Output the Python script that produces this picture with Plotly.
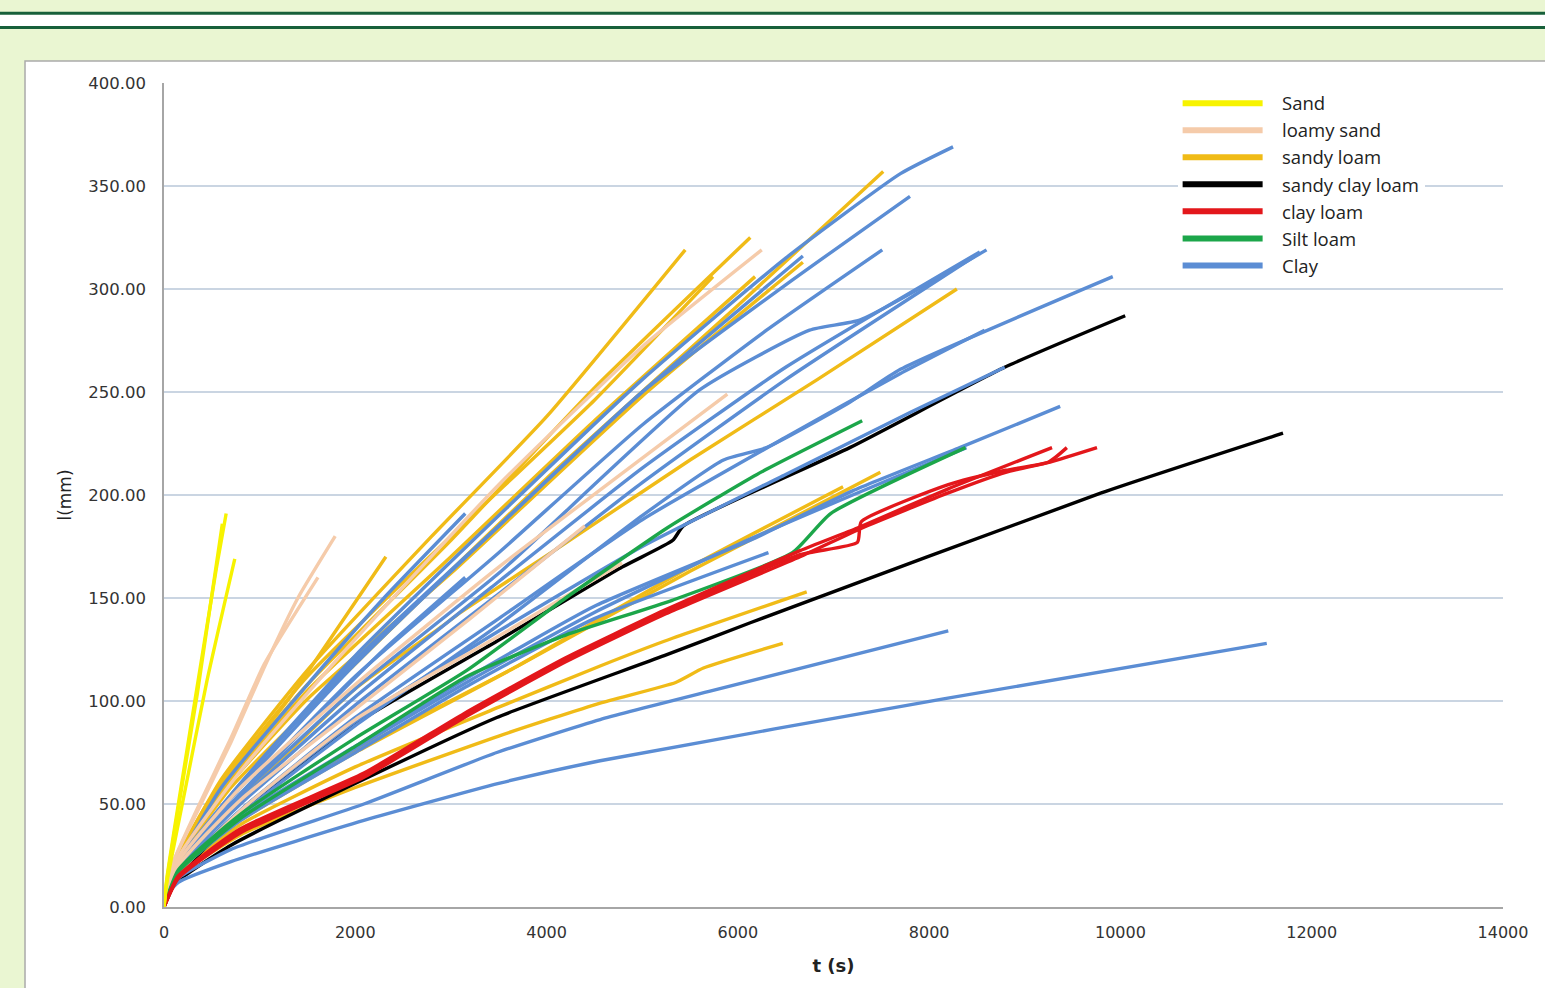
import plotly.graph_objects as go

# ---------------- data (t in s, I in mm) ----------------
SAND_T = [[0, 30, 150, 350, 550, 650], [0, 30, 200, 450, 740], [0, 30, 150, 350, 610]]
SAND_I = [[0, 14, 50, 108, 165, 191], [0, 12, 52, 110, 169], [0, 13, 48, 104, 186]]

LOAMY_SAND_T = [[0, 100, 345, 700, 1045, 1400, 1790], [0, 100, 350, 700, 1050, 1610],
                [0, 150, 800, 2000, 3500, 5000, 6250], [0, 150, 800, 2000, 3500, 5890],
                [0, 150, 800, 2000, 3200, 4400], [0, 150, 805, 2000, 3480, 4790]]
LOAMY_SAND_I = [[0, 22, 46, 80, 116, 150, 180], [0, 22, 48, 82, 118, 160],
                [0, 24, 66, 130, 205, 272, 319], [0, 22, 58, 108, 165, 249],
                [0, 20, 52, 96, 140, 185], [0, 16, 47, 91, 131, 167]]

SANDY_LOAM_T = [[0, 150, 600, 1500, 2800, 4000, 5450], [0, 150, 600, 1500, 3000, 4500, 6130],
                [0, 150, 700, 2000, 4000, 6000, 7520],
                [0, 150, 800, 2000, 2900, 3100, 4210, 5500, 6830, 8290],
                [0, 150, 600, 1500, 3000, 4500, 5740], [0, 150, 600, 1500, 3000, 4500, 6180],
                [0, 150, 600, 1500, 3000, 5000, 6680], [0, 100, 450, 1320, 2320],
                [0, 150, 800, 2000, 3700, 5500, 7490], [0, 150, 800, 2000, 3620, 5500, 7100],
                [0, 150, 800, 2000, 3500, 4560, 5230, 6720],
                [0, 150, 800, 2000, 3500, 4560, 5350, 5640, 6470]]
SANDY_LOAM_I = [[0, 24, 62, 115, 180, 238, 319], [0, 22, 58, 108, 178, 252, 325],
                [0, 22, 58, 118, 208, 292, 357],
                [0, 20, 52, 106, 136, 143, 177, 217, 256, 300],
                [0, 24, 60, 112, 180, 246, 306], [0, 22, 56, 105, 170, 236, 306],
                [0, 22, 55, 101, 162, 248, 313], [0, 20, 50, 102, 170],
                [0, 17, 43, 76, 117, 163, 211], [0, 17, 42, 75, 115, 165, 204],
                [0, 16, 40, 68, 97, 117, 129, 153],
                [0, 15, 35, 58, 83, 99, 109, 116, 128]]

SANDY_CLAY_LOAM_T = [[0, 150, 805, 2000, 3480, 4790, 5320, 5430, 7170, 8790, 10050],
                     [0, 50, 150, 700, 2090, 3480, 5230, 6130, 9800, 11700]]
SANDY_CLAY_LOAM_I = [[0, 15, 45, 89, 129, 165, 178, 185, 223, 262, 287],
                     [0, 8, 13, 30, 62, 92, 122, 138, 201, 230]]

CLAY_LOAM_T = [[0, 150, 800, 2090, 3140, 4200, 5230, 6650, 7250, 8200, 9285],
               [0, 150, 800, 2090, 3140, 4200, 5230, 6650, 7250, 7290, 8200, 8800, 9250, 9440],
               [0, 150, 800, 2090, 3140, 4200, 5230, 6650, 7300, 8200, 8800, 9265, 9755]]
CLAY_LOAM_I = [[0, 15, 38, 65, 94, 121, 144, 173, 184, 203, 223],
               [0, 15, 37, 64, 93, 120, 143, 171, 177, 187, 205, 212, 216, 223],
               [0, 14, 36, 63, 92, 119, 142, 170, 184, 201, 211, 216, 223]]

SILT_LOAM_T = [[0, 150, 800, 2000, 3170, 4200, 5260, 6200, 7300],
               [0, 150, 800, 2000, 3170, 4200, 5320, 6570, 6970, 8380]]
SILT_LOAM_I = [[0, 18, 45, 82, 115, 150, 184, 210, 236],
               [0, 17, 43, 78, 112, 132, 149, 172, 191, 223]]

CLAY_T = [[0, 150, 800, 2000, 3500, 5000, 6500, 7700, 8250],
          [0, 150, 800, 2000, 3500, 5000, 6500, 7800],
          [0, 150, 800, 2000, 3500, 5000, 6300, 7510],
          [0, 150, 800, 2000, 3500, 5600, 6750, 7280, 8600],
          [0, 150, 800, 2000, 3500, 5000, 6500, 8530],
          [0, 150, 800, 2000, 3500, 5000, 6500, 8480],
          [0, 150, 800, 2000, 3500, 5000, 5850, 6300, 7170, 7700, 9920],
          [0, 150, 800, 2000, 3500, 5000, 6500, 7700, 8580],
          [0, 150, 800, 2000, 3500, 5000, 6500, 7800, 8790],
          [0, 150, 800, 2000, 3200, 4500, 6130, 7200, 8320, 9370],
          [0, 150, 800, 2000, 3200, 4500, 6000, 7200, 8390],
          [0, 150, 800, 2000, 3200, 4500, 6320],
          [0, 50, 150, 700, 2090, 3480, 4560, 5730, 8200],
          [0, 50, 150, 700, 2090, 3500, 4560, 8150, 11530],
          [0, 150, 600, 1500, 2300, 3150],
          [0, 150, 600, 1500, 2300, 3150],
          [0, 150, 800, 2000, 3500, 5000, 6680]]
CLAY_I = [[0, 21, 60, 122, 190, 256, 315, 356, 369],
          [0, 21, 58, 118, 185, 250, 302, 345],
          [0, 20, 55, 112, 172, 234, 280, 319],
          [0, 20, 54, 106, 162, 251, 280, 285, 319],
          [0, 19, 52, 102, 158, 213, 262, 318],
          [0, 19, 50, 98, 152, 206, 256, 316],
          [0, 17, 45, 88, 137, 190, 217, 223, 245, 261, 306],
          [0, 18, 47, 92, 140, 188, 228, 259, 280],
          [0, 17, 47, 90, 134, 175, 210, 240, 262],
          [0, 17, 44, 78, 112, 146, 178, 202, 223, 243],
          [0, 17, 43, 77, 110, 143, 176, 200, 223],
          [0, 17, 42, 75, 108, 140, 172],
          [0, 7, 14, 28, 50, 75, 91, 105, 134],
          [0, 7, 12, 22, 42, 60, 71, 101, 128],
          [0, 22, 58, 108, 150, 191],
          [0, 18, 45, 88, 125, 160],
          [0, 22, 60, 120, 185, 250, 316]]

LEGEND_NAMES = ["Sand", "loamy sand", "sandy loam", "sandy clay loam", "clay loam", "Silt loam", "Clay"]
X_TICKS = [0, 2000, 4000, 6000, 8000, 10000, 12000, 14000]
Y_TICKS = [0, 50, 100, 150, 200, 250, 300, 350, 400]

# ---------------- styles ----------------
COL = {
    "Sand": "#F7F300",
    "loamy sand": "#F5CBAA",
    "sandy loam": "#F0BB17",
    "sandy clay loam": "#000000",
    "clay loam": "#E3171B",
    "Silt loam": "#1CA64A",
    "Clay": "#5B8DD4",
}
SERIES = {
    "Sand": (SAND_T, SAND_I),
    "loamy sand": (LOAMY_SAND_T, LOAMY_SAND_I),
    "sandy loam": (SANDY_LOAM_T, SANDY_LOAM_I),
    "sandy clay loam": (SANDY_CLAY_LOAM_T, SANDY_CLAY_LOAM_I),
    "clay loam": (CLAY_LOAM_T, CLAY_LOAM_I),
    "Silt loam": (SILT_LOAM_T, SILT_LOAM_I),
    "Clay": (CLAY_T, CLAY_I),
}
DRAW_ORDER = ["sandy loam", "sandy clay loam", "Clay", "loamy sand", "Silt loam", "clay loam", "Sand"]

fig = go.Figure()
for name in DRAW_ORDER:
    ts, vs = SERIES[name]
    for t, v in zip(ts, vs):
        fig.add_trace(go.Scatter(
            x=t, y=v, mode="lines", showlegend=False, hoverinfo="skip",
            line=dict(color=COL[name], width=3.4, shape="spline", smoothing=0.5),
        ))
NBSP = "\u00a0\u00a0\u00a0"
for name in LEGEND_NAMES:
    fig.add_trace(go.Scatter(
        x=[None], y=[None], mode="lines", name=NBSP + name,
        line=dict(color=COL[name], width=6),
    ))

PAGE_BG = "#EAF6D2"
DARK_GREEN = "#17603A"

shapes = [
    dict(type="rect", xref="paper", yref="paper", x0=-0.1038, x1=1.06, y0=-0.12, y1=1.0267,
         fillcolor="white", line=dict(color="#ABABAB", width=1.5), layer="below"),
    dict(type="rect", xref="paper", yref="paper", x0=-0.13, x1=1.06, y0=1.068, y1=1.085,
         fillcolor="white", line=dict(width=0), layer="below"),
    dict(type="line", xref="paper", yref="paper", x0=-0.13, x1=1.06, y0=1.0845, y1=1.0845,
         line=dict(color=DARK_GREEN, width=3), layer="below"),
    dict(type="line", xref="paper", yref="paper", x0=-0.13, x1=1.06, y0=1.0675, y1=1.0675,
         line=dict(color=DARK_GREEN, width=3), layer="below"),
]

fig.update_layout(
    width=1545, height=988,
    margin=dict(l=164, r=42, t=83, b=81),
    paper_bgcolor=PAGE_BG, plot_bgcolor="white",
    shapes=shapes,
    showlegend=True,
    legend=dict(
        x=0.757, y=0.998, xanchor="left", yanchor="top",
        bgcolor="white", borderwidth=0, itemwidth=80,
        font=dict(family="Open Sans, DejaVu Sans, sans-serif", size=18.5, color="#222222"),
        traceorder="normal", tracegroupgap=0,
    ),
    xaxis=dict(
        range=[0, 14000], tickvals=X_TICKS, tickformat="d",
        showgrid=False, zeroline=False, showline=True, linecolor="#A6A6A6", linewidth=1.5,
        ticks="", ticklabelstandoff=10,
        tickfont=dict(family="DejaVu Sans, sans-serif", size=16, color="#333333"),
        title=dict(text="<b>t (s)</b>", standoff=18,
                   font=dict(family="DejaVu Sans, sans-serif", size=18, color="#222222")),
        fixedrange=True,
    ),
    yaxis=dict(
        range=[0, 400], tickvals=Y_TICKS, tickformat=".2f",
        showgrid=True, gridcolor="#CAD5E2", gridwidth=1.5,
        zeroline=False, showline=True, linecolor="#A6A6A6", linewidth=1.5,
        ticks="", ticklabelstandoff=13,
        tickfont=dict(family="DejaVu Sans, sans-serif", size=16.5, color="#333333"),
        title=dict(text="l(mm)", standoff=12,
                   font=dict(family="DejaVu Sans, sans-serif", size=17, color="#222222")),
        fixedrange=True,
    ),
)

fig.write_html(
    "out.html",
    config={"displayModeBar": False},
    post_script="document.body.style.margin='0';document.body.style.background='#EAF6D2';",
)
